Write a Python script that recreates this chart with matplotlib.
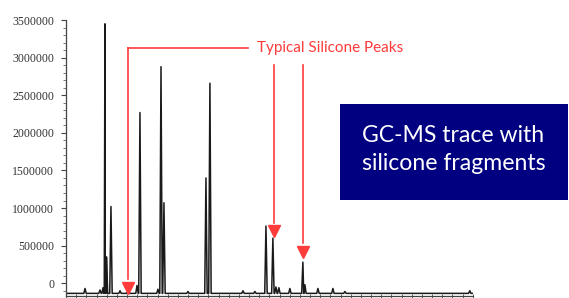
import matplotlib
matplotlib.use("Agg")
import matplotlib.pyplot as plt
from matplotlib.patches import Rectangle
import numpy as np

# retention time (min) and peak apex intensity
peak_rt = [1.87, 3.34, 3.64, 3.83, 3.98, 4.42, 5.31, 6.09, 6.98, 7.27, 9.04, 9.34,
           9.63, 11.99, 13.76, 14.15, 17.40, 18.57, 19.66, 20.34, 20.64, 20.93,
           22.01, 23.29, 23.49, 24.77, 26.24, 27.42, 39.70]
peak_height = [-70000, -90000, -60000, 3450000, 350000, 1020000, -100000, -100000,
               -30000, 2270000, -80000, 2880000, 1070000, -110000, 1400000, 2660000,
               -100000, -110000, 760000, 600000, -50000, -60000, -70000, 280000,
               -20000, -70000, -70000, -110000, -100000]
baseline = -135000

# silicone peaks pointed at by the red arrows: (rt, tip intensity)
arrow_rt = [6.09, 20.44, 23.29]
arrow_tip = [-60000, 690000, 420000]
arrow_top = [3125000, 2900000, 2900000]

yticks = [0, 500000, 1000000, 1500000, 2000000, 2500000, 3000000, 3500000]

RED = "#FF3B3B"
NAVY = "#000080"

fig = plt.figure(figsize=(5.69, 2.98), dpi=100)
ax = fig.add_axes([0.116, 0.0067, 0.715, 0.926])

# build chromatogram polyline from the listed peaks
w = 0.12
pts = [(0.0, baseline), (40.0, baseline)]
for rt, h in zip(peak_rt, peak_height):
    pts += [(rt - w, baseline), (rt, h), (rt + w, baseline)]
pts.sort(key=lambda p: p[0])
xs = np.array([p[0] for p in pts])
ys = np.array([p[1] for p in pts])
ax.plot(xs, ys, color="#1a1a1a", linewidth=1.1, zorder=2)

ax.set_xlim(0, 40)
ax.set_ylim(-170000, 3500000)
ax.set_yticks(yticks)
ax.set_yticklabels([str(v) for v in yticks], fontfamily="Liberation Serif",
                   fontsize=8.5, color="#333333")
ax.set_yticks(np.arange(-100000, 3500001, 100000), minor=True)
ax.set_xticks(np.arange(0, 40.1, 1.0), minor=True)
ax.set_xticks(np.arange(0, 40.1, 5.0))
ax.set_xticklabels([])
ax.tick_params(axis="y", which="major", length=3.5, width=0.8, color="#444444", pad=5)
ax.tick_params(axis="y", which="minor", length=2, width=0.6, color="#666666")
ax.tick_params(axis="x", which="both", direction="inout", length=3, width=0.6, color="#444444")
for side in ["top", "right"]:
    ax.spines[side].set_visible(False)
for side in ["left", "bottom"]:
    ax.spines[side].set_color("#444444")
    ax.spines[side].set_linewidth(0.9)

# red annotation lines and arrows
ax.plot([arrow_rt[0], arrow_rt[0]], [arrow_tip[0] + 110000, arrow_top[0]], color=RED,
        linewidth=1.2, zorder=3, clip_on=False)
ax.plot([arrow_rt[0], 17.9], [arrow_top[0], arrow_top[0]], color=RED, linewidth=1.2,
        zorder=3, clip_on=False)
for rt, tip, top in zip(arrow_rt[1:], arrow_tip[1:], arrow_top[1:]):
    ax.plot([rt, rt], [tip + 110000, top], color=RED, linewidth=1.2, zorder=3)
ax.plot(arrow_rt, arrow_tip, linestyle="none", marker="v", markersize=9,
        color=RED, zorder=4, clip_on=False)
ax.text(18.8, arrow_top[0], "Typical Silicone Peaks", color=RED, fontfamily="Lato",
        fontsize=11, ha="left", va="center", zorder=4)

# navy caption box
fig.patches.append(Rectangle((0.5975, 0.329), 0.4, 0.322, transform=fig.transFigure,
                             facecolor=NAVY, edgecolor="none", zorder=5))
fig.text(0.797, 0.497, "GC-MS trace with\nsilicone fragments", color="white",
         fontfamily="Lato", fontsize=16.6, ha="center", va="center",
         linespacing=1.4, zorder=6)

fig.savefig("out.png", dpi=100)
